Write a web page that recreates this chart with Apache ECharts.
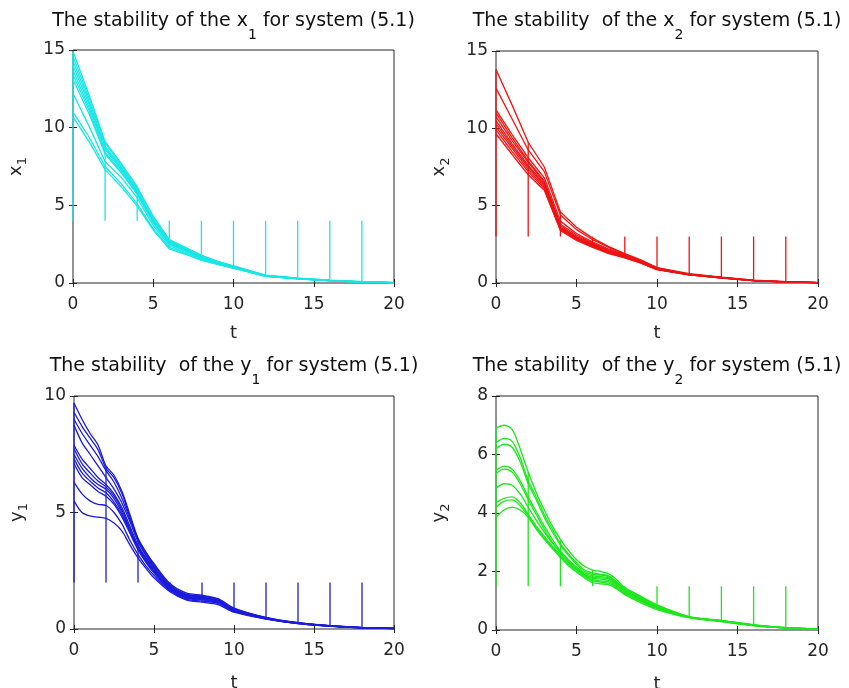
<!DOCTYPE html>
<html>
<head>
<meta charset="utf-8">
<script src="https://cdn.jsdelivr.net/npm/echarts@6/dist/echarts.min.js"></script>
<style>
html, body { margin: 0; padding: 0; background: #fff; }
#main { width: 849px; height: 688px; }
</style>
</head>
<body>
<div id="main"></div>
<script>
"use strict";

// impulse instants (every trajectory is reset to the jump level there)
var impulseTimes = [0, 2, 4, 6, 8, 10, 12, 14, 16, 18];

// sample times
var tX = [0, 1, 2, 3, 4, 5, 6, 7, 8, 9, 10, 12, 14, 16, 18, 20];
var tY = [0, 0.5, 1, 1.5, 2, 2.5, 3, 3.5, 4, 4.5, 5, 6, 7, 8, 9, 10, 12, 14, 16, 18, 20];
var tG = [0, 0.5, 1, 1.5, 2, 2.5, 3, 3.5, 4, 4.5, 5, 5.5, 6, 6.5, 7, 7.5, 8, 9, 10, 12, 14, 16, 18, 20];

// x1 trajectories (values at tX)
var x1Jump = 4;
var x1Lines = [
  [14.9, 12.1, 9.1, 7.7, 6.2, 4.3, 2.8, 2.3, 1.8, 1.4, 1.1, 0.5, 0.32, 0.18, 0.08, 0.03],
  [14.6, 11.9, 9.0, 7.6, 6.1, 4.2, 2.75, 2.25, 1.75, 1.4, 1.08, 0.49, 0.31, 0.17, 0.08, 0.03],
  [14.3, 11.7, 8.8, 7.5, 6.0, 4.1, 2.7, 2.2, 1.7, 1.35, 1.05, 0.48, 0.3, 0.17, 0.07, 0.03],
  [14.0, 11.5, 8.7, 7.4, 5.9, 4.0, 2.65, 2.15, 1.7, 1.35, 1.05, 0.47, 0.3, 0.16, 0.07, 0.03],
  [13.7, 11.3, 8.6, 7.3, 5.85, 3.95, 2.6, 2.1, 1.65, 1.3, 1.02, 0.46, 0.29, 0.16, 0.07, 0.02],
  [13.4, 11.1, 8.4, 7.2, 5.75, 3.9, 2.55, 2.1, 1.65, 1.3, 1.0, 0.45, 0.29, 0.15, 0.07, 0.02],
  [13.1, 10.9, 8.3, 7.1, 5.7, 3.85, 2.5, 2.05, 1.6, 1.28, 1.0, 0.45, 0.28, 0.15, 0.06, 0.02],
  [12.2, 10.1, 7.8, 6.8, 5.5, 3.7, 2.4, 1.95, 1.55, 1.25, 0.98, 0.44, 0.28, 0.15, 0.06, 0.02],
  [11.0, 9.4, 7.5, 6.4, 5.1, 3.5, 2.3, 1.9, 1.5, 1.22, 0.96, 0.43, 0.27, 0.14, 0.06, 0.02],
  [10.7, 9.1, 7.3, 6.2, 4.95, 3.4, 2.2, 1.85, 1.45, 1.2, 0.95, 0.42, 0.27, 0.14, 0.06, 0.02]
];

// x2 trajectories (values at tX)
var x2Jump = 3;
var x2Lines = [
  [13.8, 11.5, 9.1, 7.5, 4.6, 3.6, 2.9, 2.35, 1.9, 1.5, 1.0, 0.6, 0.38, 0.18, 0.08, 0.03],
  [12.6, 10.6, 8.6, 7.2, 4.4, 3.45, 2.8, 2.3, 1.85, 1.45, 0.98, 0.58, 0.37, 0.17, 0.08, 0.03],
  [11.2, 9.6, 8.1, 6.8, 4.0, 3.2, 2.65, 2.2, 1.8, 1.4, 0.95, 0.56, 0.36, 0.17, 0.07, 0.03],
  [11.0, 9.4, 7.9, 6.6, 3.8, 3.1, 2.6, 2.15, 1.75, 1.4, 0.93, 0.55, 0.35, 0.16, 0.07, 0.03],
  [10.75, 9.2, 7.8, 6.5, 3.7, 3.0, 2.55, 2.1, 1.72, 1.38, 0.92, 0.55, 0.35, 0.16, 0.07, 0.02],
  [10.5, 9.0, 7.6, 6.4, 3.6, 2.95, 2.5, 2.05, 1.7, 1.36, 0.9, 0.54, 0.34, 0.16, 0.07, 0.02],
  [10.3, 8.85, 7.5, 6.3, 3.55, 2.9, 2.45, 2.0, 1.68, 1.34, 0.9, 0.54, 0.34, 0.15, 0.07, 0.02],
  [10.1, 8.7, 7.35, 6.2, 3.5, 2.85, 2.4, 2.0, 1.66, 1.32, 0.88, 0.53, 0.33, 0.15, 0.06, 0.02],
  [9.9, 8.5, 7.2, 6.1, 3.45, 2.8, 2.35, 1.95, 1.64, 1.3, 0.87, 0.52, 0.33, 0.15, 0.06, 0.02],
  [9.65, 8.3, 7.0, 6.0, 3.4, 2.75, 2.3, 1.9, 1.62, 1.28, 0.86, 0.52, 0.32, 0.15, 0.06, 0.02]
];

// y1 trajectories (values at tY)
var y1Jump = 2;
var y1Lines = [
  [9.7, 9.0, 8.4, 7.9, 7.0, 6.6, 5.9, 4.9, 3.9, 3.3, 2.8, 1.95, 1.55, 1.45, 1.3, 0.9, 0.5, 0.27, 0.14, 0.06, 0.03],
  [9.3, 8.7, 8.2, 7.7, 6.9, 6.5, 5.8, 4.8, 3.85, 3.25, 2.75, 1.9, 1.5, 1.42, 1.28, 0.88, 0.49, 0.27, 0.14, 0.06, 0.03],
  [9.0, 8.4, 7.9, 7.4, 6.8, 6.3, 5.6, 4.7, 3.8, 3.2, 2.7, 1.88, 1.48, 1.4, 1.25, 0.86, 0.48, 0.26, 0.13, 0.06, 0.03],
  [8.75, 8.0, 7.5, 7.0, 6.5, 6.0, 5.4, 4.6, 3.75, 3.15, 2.65, 1.85, 1.45, 1.38, 1.22, 0.85, 0.47, 0.26, 0.13, 0.06, 0.03],
  [7.9, 7.3, 6.9, 6.5, 6.2, 5.8, 5.2, 4.4, 3.6, 3.05, 2.6, 1.8, 1.42, 1.35, 1.2, 0.84, 0.47, 0.25, 0.13, 0.06, 0.03],
  [7.75, 7.1, 6.7, 6.35, 6.1, 5.7, 5.1, 4.3, 3.55, 3.0, 2.55, 1.78, 1.4, 1.33, 1.18, 0.83, 0.46, 0.25, 0.13, 0.06, 0.03],
  [7.5, 6.9, 6.5, 6.2, 6.0, 5.6, 5.0, 4.25, 3.5, 2.95, 2.5, 1.75, 1.38, 1.3, 1.17, 0.82, 0.46, 0.25, 0.12, 0.06, 0.03],
  [7.3, 6.7, 6.35, 6.05, 5.85, 5.45, 4.9, 4.2, 3.45, 2.9, 2.45, 1.72, 1.35, 1.28, 1.15, 0.8, 0.45, 0.24, 0.12, 0.05, 0.02],
  [7.1, 6.5, 6.2, 5.9, 5.7, 5.35, 4.8, 4.1, 3.4, 2.85, 2.4, 1.7, 1.33, 1.25, 1.13, 0.79, 0.45, 0.24, 0.12, 0.05, 0.02],
  [6.3, 5.8, 5.5, 5.35, 5.3, 5.0, 4.5, 3.8, 3.2, 2.7, 2.3, 1.65, 1.28, 1.2, 1.1, 0.76, 0.44, 0.23, 0.12, 0.05, 0.02],
  [5.5, 5.0, 4.85, 4.8, 4.75, 4.55, 4.2, 3.6, 3.05, 2.6, 2.2, 1.6, 1.25, 1.15, 1.05, 0.72, 0.42, 0.23, 0.11, 0.05, 0.02]
];

// y2 trajectories (values at tG)
var y2Jump = 1.5;
var y2Lines = [
  [6.9, 7.0, 6.85, 6.2, 5.4, 4.7, 4.1, 3.55, 3.1, 2.72, 2.4, 2.18, 2.05, 2.0, 1.92, 1.72, 1.45, 1.15, 0.86, 0.46, 0.33, 0.18, 0.08, 0.03],
  [6.4, 6.55, 6.45, 5.9, 5.1, 4.55, 3.95, 3.45, 2.95, 2.6, 2.3, 2.05, 1.95, 1.9, 1.85, 1.65, 1.42, 1.12, 0.83, 0.45, 0.32, 0.17, 0.08, 0.03],
  [6.2, 6.35, 6.25, 5.75, 5.0, 4.45, 3.85, 3.35, 2.9, 2.55, 2.25, 2.0, 1.9, 1.88, 1.82, 1.62, 1.4, 1.1, 0.82, 0.45, 0.32, 0.17, 0.08, 0.03],
  [5.45, 5.6, 5.5, 5.1, 4.55, 4.05, 3.55, 3.1, 2.7, 2.4, 2.15, 1.95, 1.85, 1.82, 1.78, 1.58, 1.36, 1.07, 0.8, 0.44, 0.31, 0.17, 0.07, 0.03],
  [5.35, 5.5, 5.4, 5.0, 4.45, 3.95, 3.45, 3.0, 2.65, 2.35, 2.1, 1.9, 1.8, 1.78, 1.75, 1.55, 1.34, 1.05, 0.79, 0.44, 0.31, 0.16, 0.07, 0.03],
  [4.85, 5.0, 4.95, 4.65, 4.2, 3.75, 3.35, 2.97, 2.65, 2.36, 2.1, 1.9, 1.77, 1.74, 1.7, 1.52, 1.31, 1.02, 0.77, 0.43, 0.3, 0.16, 0.07, 0.03],
  [4.35, 4.5, 4.55, 4.35, 3.95, 3.55, 3.2, 2.87, 2.57, 2.3, 2.06, 1.86, 1.72, 1.68, 1.65, 1.48, 1.28, 1.0, 0.75, 0.43, 0.3, 0.16, 0.07, 0.03],
  [4.2, 4.4, 4.45, 4.25, 3.9, 3.5, 3.15, 2.82, 2.52, 2.25, 2.02, 1.82, 1.68, 1.64, 1.6, 1.44, 1.25, 0.97, 0.73, 0.42, 0.29, 0.15, 0.07, 0.03],
  [3.85, 4.1, 4.2, 4.1, 3.85, 3.45, 3.1, 2.78, 2.48, 2.2, 1.98, 1.78, 1.62, 1.58, 1.55, 1.4, 1.21, 0.93, 0.7, 0.42, 0.29, 0.15, 0.07, 0.03]
];

var FONT = 'DejaVu Sans';
var INK = '#262626';

var panels = [
  { title: ['The stability of the x', '1', ' for system (5.1)'], yName: ['x', '1'],
    times: tX, lines: x1Lines, jump: x1Jump, yMax: 15, yStep: 5,
    color: '#19e6e6', smooth: false, rect: [73, 50, 321, 233], titleTop: 12, tGap: 41 },
  { title: ['The stability  of the x', '2', ' for system (5.1)'], yName: ['x', '2'],
    times: tX, lines: x2Lines, jump: x2Jump, yMax: 15, yStep: 5,
    color: '#ee1414', smooth: false, rect: [496, 51, 322, 232], titleTop: 12, tGap: 41 },
  { title: ['The stability  of the y', '1', ' for system (5.1)'], yName: ['y', '1'],
    times: tY, lines: y1Lines, jump: y1Jump, yMax: 10, yStep: 5,
    color: '#1c1cd9', smooth: 0.3, rect: [74, 396, 320, 233], titleTop: 357, tGap: 45 },
  { title: ['The stability  of the y', '2', ' for system (5.1)'], yName: ['y', '2'],
    times: tG, lines: y2Lines, jump: y2Jump, yMax: 8, yStep: 2,
    color: '#1ee61e', smooth: 0.3, rect: [496, 396, 322, 234], titleTop: 357, tGap: 45 }
];

var grids = [], xAxes = [], yAxes = [], series = [], graphics = [];

panels.forEach(function (p, i) {
  grids.push({
    left: p.rect[0], top: p.rect[1], width: p.rect[2], height: p.rect[3],
    show: true, borderColor: INK, borderWidth: 1, backgroundColor: '#fff',
    containLabel: false, outerBoundsMode: 'none'
  });

  var tick = { show: true, inside: true, length: 4, lineStyle: { color: INK, width: 1 } };
  xAxes.push({
    gridIndex: i, type: 'value', min: 0, max: 20, interval: 5, position: 'bottom',
    axisLine: { show: false }, axisTick: tick, splitLine: { show: false },
    axisLabel: { color: INK, fontFamily: FONT, fontSize: 17, margin: 13 },
    name: 't', nameLocation: 'middle', nameGap: p.tGap,
    nameTextStyle: { color: INK, fontFamily: FONT, fontSize: 18 }
  });
  xAxes.push({
    gridIndex: i, type: 'value', min: 0, max: 20, interval: 5, position: 'top',
    axisLine: { show: false }, axisTick: tick, splitLine: { show: false },
    axisLabel: { show: false }
  });
  yAxes.push({
    gridIndex: i, type: 'value', min: 0, max: p.yMax, interval: p.yStep, position: 'left',
    axisLine: { show: false }, axisTick: tick, splitLine: { show: false },
    axisLabel: { color: INK, fontFamily: FONT, fontSize: 17, margin: 8 },
    name: p.yName[0] + '{s|' + p.yName[1] + '}', nameLocation: 'middle', nameGap: 44, nameRotate: 90,
    nameTextStyle: {
      color: INK, fontFamily: FONT, fontSize: 18,
      rich: { s: { color: INK, fontFamily: FONT, fontSize: 13, padding: [12, 0, 0, 0] } }
    }
  });
  yAxes.push({
    gridIndex: i, type: 'value', min: 0, max: p.yMax, interval: p.yStep, position: 'right',
    axisLine: { show: false }, axisTick: tick, splitLine: { show: false },
    axisLabel: { show: false }
  });

  // trajectories
  p.lines.forEach(function (vals) {
    series.push({
      type: 'line', xAxisIndex: 2 * i, yAxisIndex: 2 * i,
      data: p.times.map(function (t, k) { return [t, vals[k]]; }),
      symbol: 'none', smooth: p.smooth, silent: true,
      lineStyle: { color: p.color, width: 1.3 }
    });
  });

  // impulse jumps: vertical strokes from the jump level to the trajectories
  var spikes = [];
  impulseTimes.forEach(function (tk) {
    var k = p.times.indexOf(tk);
    var vals = p.lines.map(function (l) { return l[k]; }).concat([p.jump]);
    spikes.push([tk, Math.min.apply(null, vals)], [tk, Math.max.apply(null, vals)], [tk, '-']);
  });
  series.push({
    type: 'line', xAxisIndex: 2 * i, yAxisIndex: 2 * i, data: spikes,
    symbol: 'none', connectNulls: false, silent: true,
    lineStyle: { color: p.color, width: 1.3 }
  });

  // title with subscript
  graphics.push({
    type: 'text', x: p.rect[0] + p.rect[2] / 2, y: p.titleTop, silent: true,
    style: {
      text: '{m|' + p.title[0] + '}{s|' + p.title[1] + '}{m|' + p.title[2] + '}',
      align: 'center', verticalAlign: 'top',
      rich: {
        m: { fill: '#111', fontFamily: FONT, fontSize: 19, lineHeight: 22, verticalAlign: 'top' },
        s: { fill: '#111', fontFamily: FONT, fontSize: 14, lineHeight: 14, verticalAlign: 'top', padding: [16, 0, 0, 0] }
      }
    }
  });
});

var chart = echarts.init(document.getElementById('main'));
chart.setOption({
  animation: false,
  backgroundColor: '#fff',
  grid: grids,
  xAxis: xAxes,
  yAxis: yAxes,
  series: series,
  graphic: graphics
});
</script>
</body>
</html>
